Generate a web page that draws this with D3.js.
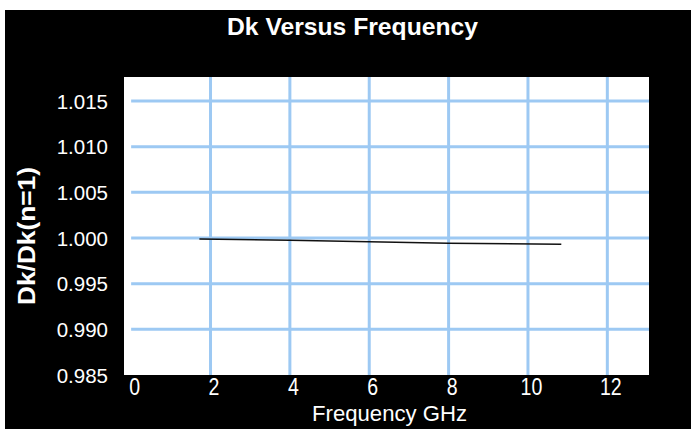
<!DOCTYPE html>
<html>
<head>
<meta charset="utf-8">
<script src="https://cdn.jsdelivr.net/npm/d3@7"></script>
<style>
  body { margin: 0; background: #fff; }
  text { font-family: "Liberation Sans", Arial, sans-serif; fill: #fff; }
</style>
</head>
<body>
<svg width="691" height="429"></svg>
<script>
// data
var freqGHz = [1.72, 4, 6, 8, 10.84];
var dkRatio = [0.99989, 0.99975, 0.99960, 0.99942, 0.99931];
var xTicks = [0, 2, 4, 6, 8, 10, 12];
var yTicks = [0.985, 0.990, 0.995, 1.000, 1.005, 1.010, 1.015];

var svg = d3.select("svg");
var plotL = 124, plotR = 649, plotT = 77, plotB = 375;

var x = d3.scaleLinear().domain([-0.18, 13.05]).range([plotL, plotR]);
var y = d3.scaleLinear().domain([0.985, 1.01763]).range([plotB, plotT]);

svg.append("rect").attr("x", 5).attr("y", 10).attr("width", 686).attr("height", 419).attr("fill", "#000");
svg.append("rect").attr("x", plotL).attr("y", plotT).attr("width", plotR - plotL).attr("height", plotB - plotT).attr("fill", "#fff");

var grid = "#9dc9f3";
// horizontal grid
svg.selectAll(".hg").data(yTicks.filter(function(d) { return d > 0.986; }))
  .enter().append("line")
  .attr("x1", x(0)).attr("x2", plotR)
  .attr("y1", function(d) { return y(d); }).attr("y2", function(d) { return y(d); })
  .attr("stroke", grid).attr("stroke-width", 3);
// vertical grid
svg.selectAll(".vg").data(xTicks.filter(function(d) { return d > 0; }))
  .enter().append("line")
  .attr("x1", function(d) { return x(d); }).attr("x2", function(d) { return x(d); })
  .attr("y1", plotT).attr("y2", plotB)
  .attr("stroke", grid).attr("stroke-width", 3);

// tick labels
svg.selectAll(".yl").data(yTicks).enter().append("text")
  .attr("x", 108).attr("y", function(d) { return y(d) + 7.5; })
  .attr("text-anchor", "end").style("font-size", "20.5px")
  .text(function(d) { return d3.format(".3f")(d); });
svg.selectAll(".xl").data(xTicks).enter().append("text")
  .attr("transform", function(d) { return "translate(" + (x(d) + 3.5) + ",395) scale(0.85,1)"; })
  .attr("text-anchor", "middle").style("font-size", "23px")
  .text(function(d) { return d; });

// the line
var line = d3.line().x(function(d, i) { return x(freqGHz[i]); }).y(function(d) { return y(d); });
svg.append("path").datum(dkRatio).attr("d", line)
  .attr("fill", "none").attr("stroke", "#111").attr("stroke-width", 1.5);

// titles
svg.append("text").attr("x", 227).attr("y", 35)
  .attr("textLength", 251).attr("lengthAdjust", "spacingAndGlyphs")
  .style("font-size", "24px").style("font-weight", "bold").text("Dk Versus Frequency");
svg.append("text").attr("x", 312).attr("y", 421)
  .attr("textLength", 155).attr("lengthAdjust", "spacingAndGlyphs")
  .style("font-size", "21.5px").text("Frequency GHz");
svg.append("text").attr("transform", "translate(35,305) rotate(-90)")
  .attr("textLength", 138).attr("lengthAdjust", "spacingAndGlyphs")
  .style("font-size", "23px").style("font-weight", "bold").text("Dk/Dk(n=1)");
</script>
</body>
</html>
